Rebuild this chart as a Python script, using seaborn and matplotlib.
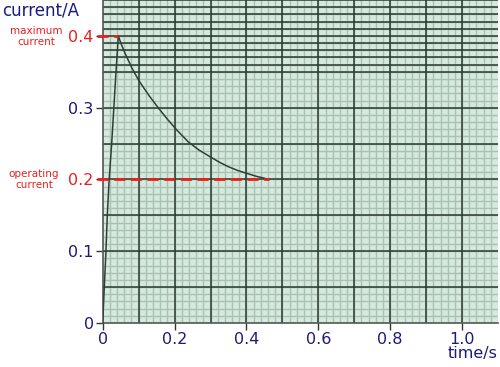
import numpy as np
import pandas as pd
import matplotlib
matplotlib.use("Agg")
import matplotlib.pyplot as plt
import seaborn as sns

# ---- data ----
time_s = [0.0, 0.0045, 0.009, 0.0128, 0.018, 0.025, 0.031, 0.037, 0.0435,
          0.052, 0.063, 0.0816, 0.1003, 0.128, 0.156, 0.18, 0.206, 0.238,
          0.268, 0.299, 0.325, 0.35, 0.376, 0.401, 0.427, 0.452, 0.463]
current_A = [0.0, 0.05, 0.10, 0.15, 0.20, 0.25, 0.30, 0.35, 0.40,
             0.388, 0.375, 0.355, 0.338, 0.3175, 0.299, 0.284, 0.269, 0.2525,
             0.241, 0.2316, 0.224, 0.2177, 0.2125, 0.2085, 0.2045, 0.2015, 0.20]
max_current = 0.4
max_time = 0.0435
operating_current = 0.2
operating_time = 0.463

x_ticks = [0, 0.2, 0.4, 0.6, 0.8, 1.0]
x_labels = ["0", "0.2", "0.4", "0.6", "0.8", "1.0"]
y_ticks = [0, 0.1, 0.2, 0.3, 0.4]
y_labels = ["0", "0.1", "0.2", "0.3", "0.4"]

sns.set_theme(style="white")
plt.rcParams['font.family'] = ['DejaVu Sans']

navy = "#1b1b7a"
red = "#e8201e"
bg = "#d5e9dd"
major_c = "#2a3a31"
minor_c = "#a9c2b2"

fig = plt.figure(figsize=(5.0, 3.67), dpi=100)
ax = fig.add_axes([0.2054, 0.1199, 0.7906, 0.8801])
ax.set_xlim(0, 1.1)
ax.set_ylim(0, 0.4501)
ax.set_facecolor(bg)

# graph paper
for xv in np.arange(0.02, 1.1, 0.02):
    ax.axvline(xv, color=minor_c, lw=1.0, zorder=0.5)
for yv in np.arange(0.01, 0.45, 0.01):
    ax.axhline(yv, color=minor_c, lw=1.0, zorder=0.5)
for xv in np.arange(0.1, 1.1, 0.1):
    ax.axvline(xv, color=major_c, lw=1.1, zorder=0.7)
for yv in np.arange(0.05, 0.36, 0.05):
    ax.axhline(yv, color=major_c, lw=1.1, zorder=0.7)
for yv in np.arange(0.36, 0.451, 0.01):
    ax.axhline(yv, color=major_c, lw=1.1, zorder=0.7)

df = pd.DataFrame({"time": time_s, "current": current_A})
sns.lineplot(data=df, x="time", y="current", sort=False, ax=ax,
             color="#2f3f37", lw=1.1, zorder=3)

ax.hlines(max_current, -0.015, max_time, colors=red, lw=2.0,
          linestyles=(0, (4, 2)), clip_on=False, zorder=4)
ax.hlines(operating_current, -0.015, operating_time, colors=red, lw=2.0,
          linestyles=(0, (4, 2)), clip_on=False, zorder=4)

ax.set_xticks(x_ticks)
ax.set_xticklabels(x_labels)
ax.set_yticks(y_ticks)
ax.set_yticklabels(y_labels)
ax.tick_params(axis="both", direction="out", length=5, width=1.0,
               color=major_c, labelsize=11.5, labelcolor=navy, pad=1.5,
               bottom=True, left=True)
for lab, val in zip(ax.get_yticklabels(), y_ticks):
    if val in (max_current, operating_current):
        lab.set_color(red)

ax.set_xlabel("")
ax.set_ylabel("")
for s in ["top", "right"]:
    ax.spines[s].set_visible(False)
for s in ["left", "bottom"]:
    ax.spines[s].set_color("#555555")
    ax.spines[s].set_linewidth(1.2)

fig.text(0.004, 0.972, "current/A", color=navy, fontsize=12,
         ha="left", va="center")
fig.text(0.994, 0.038, "time/s", color=navy, fontsize=11.5,
         ha="right", va="center")
fig.text(0.072, 0.9, "maximum\ncurrent", color=red, fontsize=7.5,
         ha="center", va="center", linespacing=1.1)
fig.text(0.068, 0.51, "operating\ncurrent", color=red, fontsize=7.5,
         ha="center", va="center", linespacing=1.1)

fig.savefig("out.png", dpi=100)
